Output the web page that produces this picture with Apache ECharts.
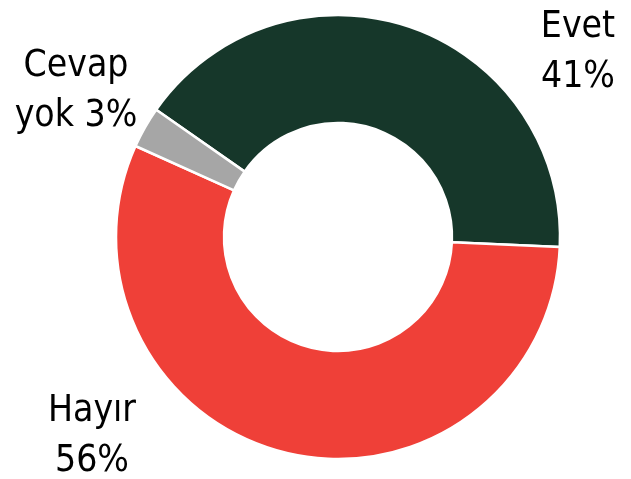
<!DOCTYPE html>
<html>
<head>
<meta charset="utf-8">
<script src="https://cdn.jsdelivr.net/npm/echarts@6/dist/echarts.min.js"></script>
<style>html,body{margin:0;padding:0;background:#fff;}#c{width:631px;height:479px;}</style>
</head>
<body>
<div id="c"></div>
<script>
const categories = ['Evet', 'Hayır', 'Cevap yok'];
const values = [41, 56, 3];
const labelTexts = ['Evet\n41%', 'Hayır\n56%', 'Cevap\nyok 3%'];
const colors = ['#16372A', '#EF4038', '#A6A6A6'];

const labelPos = [
  {x: 578, y: 52, align: 'center'},
  {x: 92, y: 436, align: 'center'},
  {x: 76, y: 91, align: 'center'}
];

const chart = echarts.init(document.getElementById('c'), null, {renderer: 'canvas'});
chart.setOption({
  animation: false,
  series: [{
    type: 'pie',
    center: [338, 237],
    radius: [114, 222],
    startAngle: 145,
    clockwise: true,
    itemStyle: {borderColor: '#fff', borderWidth: 2.5},
    label: {
      show: true,
      position: 'outside',
      formatter: p => labelTexts[p.dataIndex],
      fontFamily: 'DejaVu Sans Condensed, DejaVu Sans',
      fontSize: 37,
      lineHeight: 50,
      color: '#000',
      overflow: 'none',
      width: 200
    },
    labelLine: {show: false},
    labelLayout: function (params) {
      const lp = labelPos[params.dataIndex];
      return {x: lp.x, y: lp.y, align: lp.align, verticalAlign: 'middle'};
    },
    data: categories.map((c, i) => ({name: c, value: values[i], itemStyle: {color: colors[i]}}))
  }]
});
</script>
</body>
</html>
